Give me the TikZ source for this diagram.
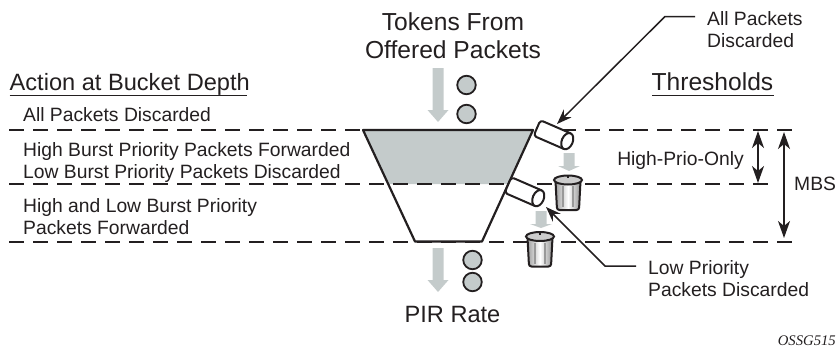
\documentclass[tikz,border=0pt]{standalone}
\usepackage{fontspec}
\setmainfont{Liberation Sans}
\newfontfamily\serifit[ItalicFont={Liberation Serif Italic}]{Liberation Serif}
\usetikzlibrary{arrows.meta,calc}
\definecolor{bucketgray}{RGB}{196,203,203}
\definecolor{ink}{RGB}{35,31,32}
\tikzset{
  x=1pt,y=-1pt,
  lbl/.style={inner sep=0pt,text=ink,font=\fontsize{19.3}{22}\selectfont,align=left,anchor=base west},
  head/.style={inner sep=0pt,text=ink,font=\fontsize{24.6}{28}\selectfont,align=center},
  headsm/.style={inner sep=0pt,text=ink,font=\fontsize{23.6}{28}\selectfont},
  level/.style={draw=ink,line width=1.5pt,dash pattern=on 15pt off 9pt},
  wall/.style={draw=ink,line width=2.2pt,line join=round},
  token/.style={circle,draw=ink,line width=1.8pt,fill=bucketgray,minimum size=18.5pt,inner sep=0pt},
  flow/.style={fill=bucketgray,draw=none},
  rulel/.style={draw=ink,line width=1.1pt},
  leader/.style={draw=ink,line width=1.5pt,-{Stealth[length=15pt,width=11pt,inset=5pt]}},
  span/.style={draw=ink,line width=1.5pt,{Stealth[length=17pt,width=12pt,inset=5pt]}-{Stealth[length=17pt,width=12pt,inset=5pt]}},
}
\newcommand{\flowarrow}[5]{% x, top, headstart, tip, halfhead
  \fill[flow] (#1-5.5,#2) -- (#1+5.5,#2) -- (#1+5.5,#3) -- (#1+#5,#3) -- (#1,#4) -- (#1-#5,#3) -- (#1-5.5,#3) -- cycle;}
\newcommand{\pipe}[2]{% left end centre x,y
  \begin{scope}[shift={(#1,#2)},rotate=-23.5]
    \draw[wall,fill=white,line width=2pt,rounded corners=3pt] (33,-8.5) -- (0,-8.5) -- (0,8.5) -- (33,8.5);
    \draw[wall,fill=white,line width=2pt] (33,0) ellipse [x radius=5.5pt,y radius=8.5pt];
  \end{scope}}
\newcommand{\bin}[2]{% centre x, top y
  \begin{scope}[shift={(#1,#2)}]
    \shade[left color=gray!75,right color=gray!85,middle color=white,draw=ink,line width=2pt,rounded corners=2.5pt]
       (-12.5,6) -- (-11,35) -- (11,35) -- (12.5,6) -- cycle;
    \fill[gray!80] (-6,11) rectangle (-4.5,32);
    \fill[gray!80] (4,11) rectangle (5.5,32);
    \draw[fill=gray!40,draw=ink,line width=2pt] (0,5) ellipse [x radius=14pt,y radius=4.5pt];
    \fill[ink] (-1,1.2) rectangle (1,3.4);
  \end{scope}}
\begin{document}
\begin{tikzpicture}
\useasboundingbox (0,0) rectangle (840,348);
% fill
\fill[bucketgray] (363,130) -- (533,130) -- (507.5,184) -- (388.5,184) -- cycle;
% levels
\coordinate (l1a) at (9,130); \coordinate (l1b) at (793,130);
\coordinate (l2a) at (9,184); \coordinate (l2b) at (769,184);
\coordinate (l3a) at (9,242); \coordinate (l3b) at (793,242);
\draw[level] (l1a) -- (l1b);
\draw[level] (l2a) -- (l2b);
\draw[level] (l3a) -- (l3b);
% bucket
\draw[wall] (363,130) -- (533,130) -- (482,241.5) -- (415,241.5) -- cycle;
% flow arrows
\flowarrow{438}{68}{110}{122}{10.5}
\flowarrow{438}{248}{280}{292}{10.5}
\flowarrow{569}{153}{166}{171}{11}
\flowarrow{541}{211}{224}{228}{11}
% tokens
\node[token] (t1) at (466.5,85) {};
\node[token] (t2) at (466.5,114) {};
\node[token] (t3) at (472.5,260) {};
\node[token] (t4) at (472.5,282) {};
% pipes and bins
\pipe{537}{128}
\pipe{508}{185}
\bin{568}{175}
\bin{540}{231.5}
\coordinate (p1) at (557,124);
\coordinate (p2) at (546,207);
% texts
\node[head] (src) at (453,36) {Tokens From\\Offered Packets};
\node[headsm,anchor=base] (out) at (452.5,322.5) {PIR Rate};
\node[headsm,anchor=base west] (act) at (9.5,90) {Action at Bucket Depth};
\draw[rulel] (act.base west |- 0,95.5) -- (247,95.5);
\node[head,anchor=base east] (thr) at (773.5,90) {Thresholds};
\draw[rulel] (652,95.7) -- (thr.base east |- 0,95.7);
\node[lbl] (a1) at (23,121.7) {All Packets Discarded};
\node[lbl] (a2) at (23,156) {High Burst Priority Packets Forwarded};
\node[lbl] (a3) at (23,178) {Low Burst Priority Packets Discarded};
\node[lbl] (a4) at (23,212) {High and Low Burst Priority};
\node[lbl] (a5) at (23,234) {Packets Forwarded};
\node[lbl] (apd) at (707,25) {All Packets};
\node[lbl] (apd2) at (707,47.5) {Discarded};
\node[lbl] (lpd) at (648,274) {Low Priority};
\node[lbl] (lpd2) at (648,296) {Packets Discarded};
\node[lbl,anchor=base east] (hpo) at (744,165) {High-Prio-Only};
\node[lbl] (mbs) at (794,190.7) {MBS};
\node[inner sep=0pt,text=ink,anchor=base east,font=\serifit\itshape\fontsize{14.7}{16}\selectfont] (tag) at (836,345) {OSSG515};
% spans
\coordinate (s1a) at (758,131); \coordinate (s1b) at (758,183);
\coordinate (s2a) at (784,132); \coordinate (s2b) at (784,238);
\draw[span] (s1a) -- (s1b);
\draw[span] (s2a) -- (s2b);
% leaders
\coordinate (b1) at (665,16.5);
\coordinate (b2) at (605,266);
\draw[leader] (apd.west |- b1) ++(-12,0) -- (b1) -- (p1);
\draw[leader] (lpd.west |- b2) ++(-12,0) -- (b2) -- (p2);
\end{tikzpicture}
\end{document}
